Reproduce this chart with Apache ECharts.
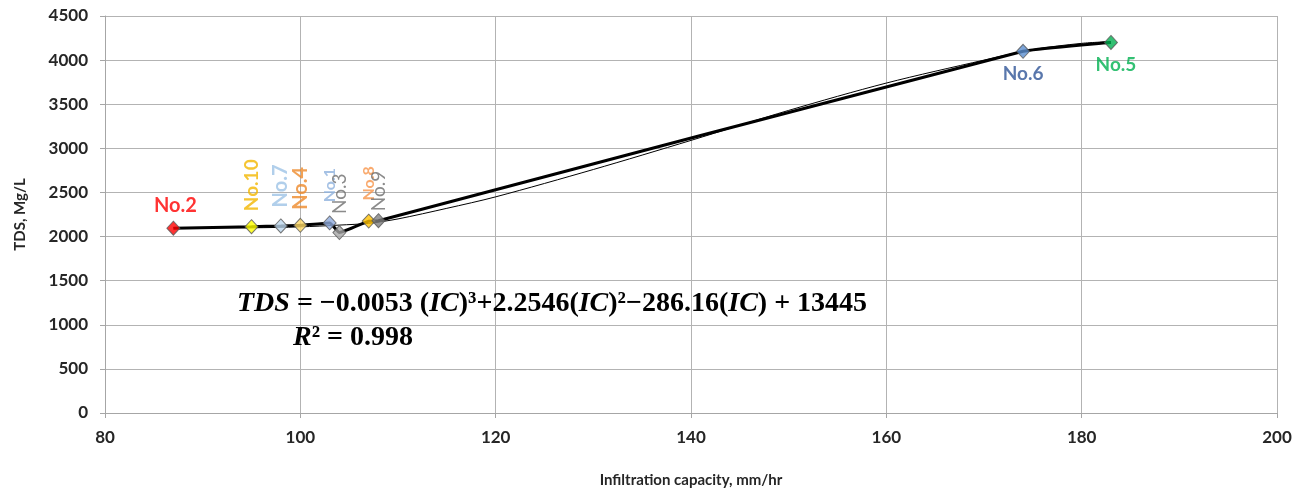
<!DOCTYPE html>
<html>
<head>
<meta charset="utf-8">
<script src="https://cdn.jsdelivr.net/npm/echarts@6/dist/echarts.min.js"></script>
<style>html,body{margin:0;padding:0;background:#fff}#c{width:1314px;height:491px}</style>
</head>
<body>
<div id="c"></div>
<script>
// Sample points
const wellNames = ['No.2','No.10','No.7','No.4','No.1','No.3','No.8','No.9','No.6','No.5'];
const icValues  = [87, 95, 98, 100, 103, 104, 107, 108, 174, 183];
const tdsValues = [2095, 2112, 2120, 2128, 2155, 2045, 2175, 2180, 4100, 4200];
// Polynomial trendline
const trendIC  = [87, 95, 100, 104, 107, 110, 115, 120, 130, 140, 150, 160, 170, 175, 180, 183];
const trendTDS = [2100, 2100, 2110, 2130, 2150, 2200, 2320, 2450, 2760, 3090, 3430, 3740, 4000, 4120, 4190, 4210];
// Axis ticks
const xTicks = [80, 100, 120, 140, 160, 180, 200];
const yTicks = [0, 500, 1000, 1500, 2000, 2500, 3000, 3500, 4000, 4500];

// Per-point styling (not data)
const pointStyles = [
  {fill:'#ff0000', lc:'#ff0000', fs:20, fw:'bold', rot:0, pos:'top', dist:5, off:[2,0]},
  {fill:'#ffff00', lc:'#f2b600', fs:19, fw:'bold', rot:90, pos:'top', dist:6, off:[2,0]},
  {fill:'#bdd7ee', lc:'#9dc3e6', fs:20, fw:'bold', rot:90, pos:'top', dist:11, off:[0,0]},
  {fill:'#ffd966', lc:'#ee8a2a', fs:20, fw:'bold', rot:90, pos:'top', dist:8, off:[0,0]},
  {fill:'#8faadc', lc:'#8eb1dd', fs:16, fw:'bold', rot:90, pos:'top', dist:16, off:[-3,0]},
  {fill:'#a5a5a5', lc:'#6e6e6e', fs:19, fw:'normal', rot:90, pos:'top', dist:7, off:[4,0]},
  {fill:'#ffc000', lc:'#f7954a', fs:16, fw:'bold', rot:90, pos:'top', dist:18, off:[-5,0]},
  {fill:'#7f7f7f', lc:'#6e6e6e', fs:19, fw:'normal', rot:90, pos:'top', dist:-3, off:[5,0]},
  {fill:'#5b8fd0', lc:'#2f5597', fs:19, fw:'bold', rot:0, pos:'bottom', dist:6, off:[0,0]},
  {fill:'#00b050', lc:'#00b050', fs:19, fw:'bold', rot:0, pos:'bottom', dist:5, off:[5,0]}
];

const points = icValues.map((x, i) => {
  const s = pointStyles[i];
  const lbl = {
    show: true, formatter: wellNames[i], position: s.pos, distance: s.dist,
    color: s.lc, fontSize: s.fs, fontWeight: s.fw, fontFamily: 'Lato', offset: s.off
  };
  if (s.rot) { lbl.rotate = s.rot; lbl.align = 'left'; lbl.verticalAlign = 'middle'; }
  return { value: [x, tdsValues[i]], itemStyle: { color: s.fill, borderColor: '#595959', borderWidth: 1 }, label: lbl };
});

const chart = echarts.init(document.getElementById('c'));
const axisFont = { fontFamily: 'Lato', fontWeight: 'bold', fontSize: 17, color: '#262626' };
chart.setOption({
  animation: false,
  grid: { left: 105, right: 37, top: 16, bottom: 78, containLabel: false, outerBoundsMode: 'none' },
  xAxis: {
    type: 'value', min: xTicks[0], max: xTicks[xTicks.length-1], interval: 20,
    name: 'Infiltration capacity, mm/hr', nameLocation: 'middle', nameGap: 60,
    nameTextStyle: { fontFamily: 'Lato', fontWeight: 'bold', fontSize: 15, color: '#262626' },
    axisLine: { show: true, lineStyle: { color: '#a6a6a6', width: 1 } },
    axisTick: { show: true, length: 5, lineStyle: { color: '#a6a6a6' } },
    axisLabel: Object.assign({ margin: 16, formatter: v => String(v) }, axisFont),
    splitLine: { show: true, lineStyle: { color: '#b3b3b3', width: 1 } }
  },
  yAxis: {
    type: 'value', min: yTicks[0], max: yTicks[yTicks.length-1], interval: 500,
    name: 'TDS, Mg/L', nameLocation: 'middle', nameGap: 77,
    nameTextStyle: { fontFamily: 'Lato', fontWeight: 'bold', fontSize: 15, color: '#262626' },
    axisLine: { show: true, lineStyle: { color: '#a6a6a6', width: 1 } },
    axisTick: { show: true, length: 5, lineStyle: { color: '#a6a6a6' } },
    axisLabel: Object.assign({ margin: 17, formatter: v => String(v) }, axisFont),
    splitLine: { show: true, lineStyle: { color: '#b3b3b3', width: 1 } }
  },
  series: [
    {
      type: 'line', data: trendIC.map((x, i) => [x, trendTDS[i]]), smooth: 0.3,
      showSymbol: false, symbol: 'none', lineStyle: { color: '#000', width: 1 }, z: 2, silent: true
    },
    {
      type: 'line', data: icValues.map((x, i) => [x, tdsValues[i]]), smooth: 0.12,
      showSymbol: false, symbol: 'none', lineStyle: { color: '#000', width: 3 }, z: 3, silent: true
    },
    {
      type: 'scatter', data: points, symbol: 'diamond', symbolSize: [13, 14], z: 5
    }
  ],
  graphic: [
    {
      type: 'text', left: 237, top: 290, z: 10,
      style: {
        text: '{i|TDS}{n| = −0.0053 (}{i|IC}{n|)³+2.2546(}{i|IC}{n|)²−286.16(}{i|IC}{n|) + 13445}',
        rich: {
          i: { fontFamily: 'Liberation Serif', fontStyle: 'italic', fontWeight: 'bold', fontSize: 28, fill: '#000' },
          n: { fontFamily: 'Liberation Serif', fontWeight: 'bold', fontSize: 28, fill: '#000' }
        }
      }
    },
    {
      type: 'text', left: 293, top: 324, z: 10,
      style: {
        text: '{i|R}{n|² = 0.998}',
        rich: {
          i: { fontFamily: 'Liberation Serif', fontStyle: 'italic', fontWeight: 'bold', fontSize: 28, fill: '#000' },
          n: { fontFamily: 'Liberation Serif', fontWeight: 'bold', fontSize: 28, fill: '#000' }
        }
      }
    }
  ]
});
</script>
</body>
</html>
